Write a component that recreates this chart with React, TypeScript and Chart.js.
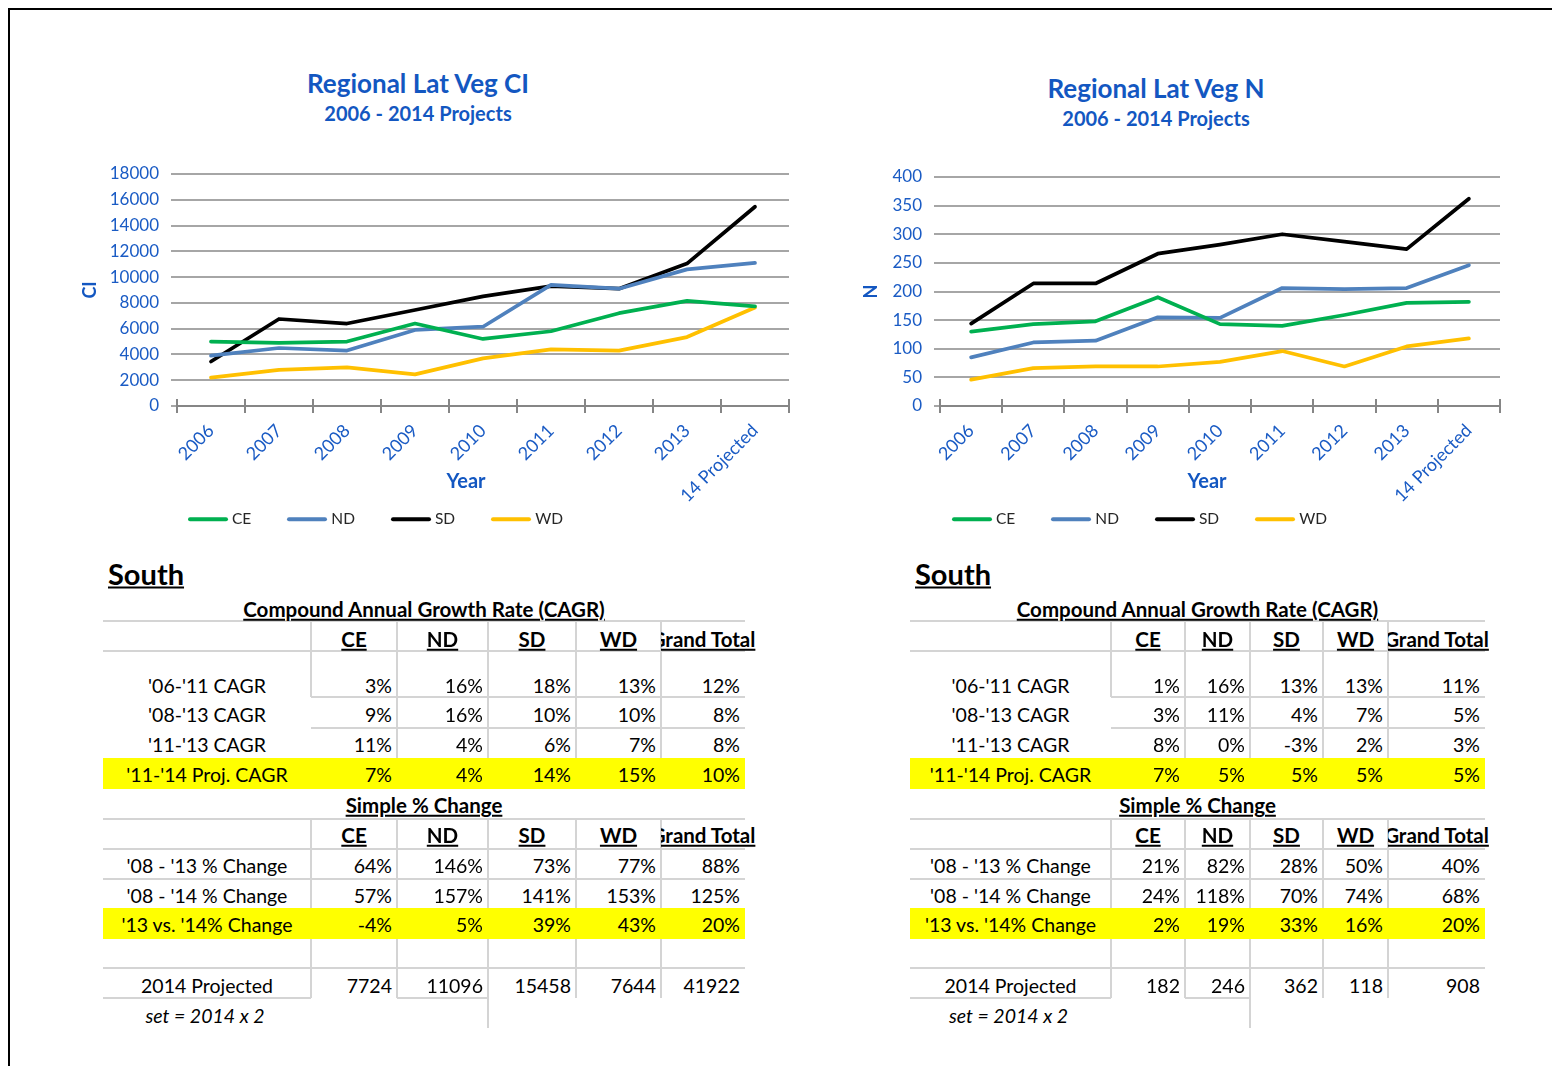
import React, { useEffect, useRef } from "react";
import { Chart, registerables } from "chart.js";
Chart.register(...registerables);
Chart.defaults.font.family = "Lato, 'Open Sans', sans-serif";

// ---------- data ----------
const years = ["2006", "2007", "2008", "2009", "2010", "2011", "2012", "2013", "14 Projected"];
const seriesNames = ["CE", "ND", "SD", "WD"];
const seriesColors = ["#00B050", "#4F81BD", "#000000", "#FFC000"];

const ciCE = [5000, 4900, 5000, 6400, 5200, 5800, 7200, 8150, 7724];
const ciND = [3900, 4500, 4300, 5900, 6150, 9400, 9100, 10600, 11096];
const ciSD = [3450, 6750, 6400, 7450, 8500, 9300, 9100, 11050, 15458];
const ciWD = [2200, 2800, 3000, 2450, 3700, 4400, 4300, 5350, 7644];

const nCE = [130, 143, 148, 190, 143, 140, 159, 180, 182];
const nND = [85, 111, 114, 155, 154, 206, 204, 206, 246];
const nSD = [144, 214, 214, 266, 282, 300, 287, 274, 362];
const nWD = [46, 66, 69, 69, 77, 96, 69, 104, 118];

const ciAxis = { max: 18000, step: 2000 };
const nAxis = { max: 400, step: 50 };

const tableCols = ["CE", "ND", "SD", "WD", "Grand Total"];
const cagrLabels = ["'06-'11 CAGR", "'08-'13 CAGR", "'11-'13 CAGR", "'11-'14 Proj. CAGR"];
const changeLabels = ["'08 - '13 % Change", "'08 - '14 % Change", "'13 vs. '14% Change"];
const projectedLabel = "2014 Projected";
const noteLabel = "set = 2014 x 2";

const ciCagr = [
  ["3%", "16%", "18%", "13%", "12%"],
  ["9%", "16%", "10%", "10%", "8%"],
  ["11%", "4%", "6%", "7%", "8%"],
  ["7%", "4%", "14%", "15%", "10%"],
];
const ciChange = [
  ["64%", "146%", "73%", "77%", "88%"],
  ["57%", "157%", "141%", "153%", "125%"],
  ["-4%", "5%", "39%", "43%", "20%"],
];
const ciProjected = ["7724", "11096", "15458", "7644", "41922"];

const nCagr = [
  ["1%", "16%", "13%", "13%", "11%"],
  ["3%", "11%", "4%", "7%", "5%"],
  ["8%", "0%", "-3%", "2%", "3%"],
  ["7%", "5%", "5%", "5%", "5%"],
];
const nChange = [
  ["21%", "82%", "28%", "50%", "40%"],
  ["24%", "118%", "70%", "74%", "68%"],
  ["2%", "19%", "33%", "16%", "20%"],
];
const nProjected = ["182", "246", "362", "118", "908"];

// ---------- styles ----------
const TICK_BLUE = "#1a5bc4";
const TITLE_BLUE = "#1357c1";
const TABLE_GRID = "#d4d4d4";
const FONT = "Lato, 'Open Sans', sans-serif";

const crossTicks = {
  id: "crossTicks",
  beforeDatasetsDraw(chart: any) {
    const s = chart.scales.x;
    const n = chart.data.labels.length;
    const w = (s.right - s.left) / n;
    const ctx = chart.ctx;
    ctx.save();
    ctx.strokeStyle = "#868686";
    ctx.lineWidth = 2;
    ctx.beginPath();
    for (let i = 0; i <= n; i++) {
      const x = Math.round(s.left + i * w);
      ctx.moveTo(x, s.top - 7);
      ctx.lineTo(x, s.top + 7);
    }
    ctx.stroke();
    ctx.restore();
  },
};

type ChartProps = {
  data: number[][];
  max: number;
  step: number;
  yTitle: string;
  left: number;
  top: number;
  width: number;
  height: number;
  axisWidth: number;
  padTop: number;
  padRight: number;
  yTitlePad: number;
  xAxisHeight: number;
};

function LineChart(p: ChartProps) {
  const ref = useRef<HTMLCanvasElement>(null);
  useEffect(() => {
    const chart = new Chart(ref.current as HTMLCanvasElement, {
      type: "line",
      data: {
        labels: years,
        datasets: seriesNames.map((name, i) => ({
          label: name,
          data: p.data[i],
          borderColor: seriesColors[i],
          backgroundColor: seriesColors[i],
          borderWidth: 3.75,
          pointRadius: 0,
          tension: 0,
          borderCapStyle: "round",
          borderJoinStyle: "round",
        })),
      },
      options: {
        responsive: false,
        animation: false,
        maintainAspectRatio: false,
        layout: { padding: { top: p.padTop, right: p.padRight, left: 0, bottom: 0 } },
        plugins: { legend: { display: false }, title: { display: false }, tooltip: { enabled: false } },
        scales: {
          x: {
            offset: true,
            grid: { display: false, drawTicks: false },
            border: { display: true, color: "#868686", width: 2 },
            ticks: {
              minRotation: 45,
              maxRotation: 45,
              autoSkip: false,
              color: TICK_BLUE,
              font: { size: 18 },
              padding: 14,
            },
            afterFit: (s: any) => {
              s.height = p.xAxisHeight;
            },
          },
          y: {
            min: 0,
            max: p.max,
            ticks: {
              stepSize: p.step,
              color: TICK_BLUE,
              font: { size: 17 },
              padding: 12,
              callback: (v: any) => String(v),
            },
            grid: { color: "#a6a6a6", lineWidth: 2, tickLength: 6, drawTicks: true },
            border: { display: false },
            title: {
              display: true,
              text: p.yTitle,
              color: TITLE_BLUE,
              font: { size: 18, weight: "bold" },
              padding: { top: p.yTitlePad, bottom: 0 },
            },
            afterFit: (s: any) => {
              s.width = p.axisWidth;
            },
          },
        },
      } as any,
      plugins: [crossTicks],
    });
    return () => chart.destroy();
  }, []);
  return (
    <canvas
      ref={ref}
      width={p.width}
      height={p.height}
      style={{ position: "absolute", left: p.left - 10, top: p.top - 10, width: p.width, height: p.height }}
    />
  );
}

function Txt(props: { x: number; y: number; a?: "l" | "c" | "r"; children: React.ReactNode; style?: React.CSSProperties }) {
  const a = props.a || "c";
  const tx = a === "c" ? "-50%" : a === "r" ? "-100%" : "0";
  return (
    <div
      style={{
        position: "absolute",
        left: props.x - 10,
        top: props.y - 10,
        transform: `translate(${tx},-50%)`,
        whiteSpace: "nowrap",
        lineHeight: 1,
        ...props.style,
      }}
    >
      {props.children}
    </div>
  );
}

function HLine({ x1, x2, y }: { x1: number; x2: number; y: number }) {
  return <div style={{ position: "absolute", left: x1 - 10, top: y - 11, width: x2 - x1, height: 2, background: TABLE_GRID }} />;
}
function VLine({ x, y1, y2 }: { x: number; y1: number; y2: number }) {
  return <div style={{ position: "absolute", left: x - 11, top: y1 - 10, width: 2, height: y2 - y1, background: TABLE_GRID }} />;
}

function Legend({ x, y }: { x: number; y: number }) {
  return (
    <div
      style={{
        position: "absolute",
        left: x - 10,
        top: y - 10,
        transform: "translateY(-50%)",
        display: "flex",
        alignItems: "center",
        gap: 36,
        fontSize: 15.5,
        color: "#262626",
        lineHeight: 1,
      }}
    >
      {seriesNames.map((n, i) => (
        <div key={n} style={{ display: "flex", alignItems: "center" }}>
          <div style={{ width: 40, height: 4, background: seriesColors[i], marginRight: 4, borderRadius: 2 }} />
          <span>{n}</span>
        </div>
      ))}
    </div>
  );
}

function ChartTitles({ cx, y, title }: { cx: number; y: number; title: string }) {
  return (
    <>
      <Txt x={cx} y={y} style={{ fontSize: 26, fontWeight: 700, color: TITLE_BLUE }}>{title}</Txt>
      <Txt x={cx} y={y + 30} style={{ fontSize: 20, fontWeight: 700, color: TITLE_BLUE }}>
        2006 - 2014 Projects
      </Txt>
    </>
  );
}

function StatsTable({ cols, cagr, change, projected, southX }: { cols: number[]; cagr: string[][]; change: string[][]; projected: string[]; southX: number }) {
  const L = cols[0];
  const R = cols[cols.length - 1];
  const mid = (L + R) / 2;
  const labelC = (cols[0] + cols[1]) / 2;
  const rowsA = [686, 715, 745, 775];
  const rowsB = [866, 896, 925];
  const bodyFont: React.CSSProperties = { fontSize: 19.5, color: "#000" };
  const headFont: React.CSSProperties = { fontSize: 20.5, fontWeight: 700, textDecoration: "underline", color: "#000" };
  const header = (y: number) =>
    tableCols.map((c, i) => {
      const cl = cols[i + 1];
      const cr = cols[i + 2];
      const cc = (cl + cr) / 2;
      return (
        <div key={c + y} style={{ position: "absolute", left: cl - 10, top: y - 25, width: 200, height: 30, overflow: "hidden" }}>
          <div
            style={{
              position: "absolute",
              left: cc - cl,
              top: 15,
              transform: "translate(-50%,-50%)",
              whiteSpace: "nowrap",
              lineHeight: 1,
              ...headFont,
            }}
          >
            {c}
          </div>
        </div>
      );
    });
  const values = (row: string[], y: number) =>
    row.map((v, i) => (
      <Txt key={i + "-" + y} x={cols[i + 2] - 5} y={y} a="r" style={bodyFont}>
        {v}
      </Txt>
    ));
  return (
    <>
      <HLine x1={L} x2={R} y={621} />
      <HLine x1={L} x2={R} y={651} />
      <HLine x1={cols[1]} x2={R} y={697} />
      <HLine x1={cols[1]} x2={R} y={728} />
      <VLine x={cols[1]} y1={621} y2={697} />
      {cols.slice(2, 6).map((x) => (
        <VLine key={"va" + x} x={x} y1={621} y2={758} />
      ))}
      <div style={{ position: "absolute", left: L - 10, top: 758 - 10, width: R - L, height: 31, background: "#FFFF00" }} />
      <HLine x1={L} x2={R} y={819} />
      <HLine x1={L} x2={R} y={849} />
      <HLine x1={L} x2={R} y={879} />
      <HLine x1={L} x2={R} y={968} />
      <HLine x1={L} x2={cols[1]} y={998} />
      <HLine x1={cols[2]} x2={cols[3]} y={998} />
      {[cols[1], cols[2], cols[4], cols[5]].map((x) => (
        <VLine key={"vb" + x} x={x} y1={819} y2={998} />
      ))}
      <VLine x={cols[3]} y1={819} y2={1028} />
      <div style={{ position: "absolute", left: L - 10, top: 908 - 10, width: R - L, height: 31, background: "#FFFF00" }} />

      <Txt x={southX} y={573} a="l" style={{ fontSize: 29, fontWeight: 700, textDecoration: "underline", color: "#000" }}>
        South
      </Txt>
      <Txt x={mid} y={609} style={{ ...headFont }}>Compound Annual Growth Rate (CAGR)</Txt>
      {header(639)}
      {cagrLabels.map((lab, r) => (
        <React.Fragment key={lab}>
          <Txt x={labelC} y={rowsA[r]} style={bodyFont}>{lab}</Txt>
          {values(cagr[r], rowsA[r])}
        </React.Fragment>
      ))}
      <Txt x={mid} y={805} style={{ ...headFont }}>Simple % Change</Txt>
      {header(835)}
      {changeLabels.map((lab, r) => (
        <React.Fragment key={lab}>
          <Txt x={labelC} y={rowsB[r]} style={bodyFont}>{lab}</Txt>
          {values(change[r], rowsB[r])}
        </React.Fragment>
      ))}
      <Txt x={labelC} y={986} style={bodyFont}>{projectedLabel}</Txt>
      {values(projected, 986)}
      <Txt x={labelC - 2} y={1016} style={{ ...bodyFont, fontStyle: "italic" }}>{noteLabel}</Txt>
    </>
  );
}

export default function App() {
  return (
    <div
      style={{
        position: "relative",
        height: 1056,
        marginRight: -8,
        borderTop: "2px solid #000",
        borderLeft: "2px solid #000",
        fontFamily: FONT,
        overflow: "hidden",
        background: "#fff",
      }}
    >
      <ChartTitles cx={418} y={83} title="Regional Lat Veg CI" />
      <ChartTitles cx={1156} y={88} title="Regional Lat Veg N" />
      <LineChart
        data={[ciCE, ciND, ciSD, ciWD]}
        max={ciAxis.max}
        step={ciAxis.step}
        yTitle="CI"
        left={60}
        top={150}
        width={740}
        height={370}
        axisWidth={117}
        padTop={24}
        padRight={11}
        yTitlePad={19.2}
        xAxisHeight={114}
      />
      <LineChart
        data={[nCE, nND, nSD, nWD]}
        max={nAxis.max}
        step={nAxis.step}
        yTitle="N"
        left={850}
        top={150}
        width={660}
        height={370}
        axisWidth={90}
        padTop={27}
        padRight={10}
        yTitlePad={10.2}
        xAxisHeight={114}
      />
      <Txt x={466} y={480} style={{ fontSize: 20, fontWeight: 700, color: TITLE_BLUE }}>Year</Txt>
      <Txt x={1207} y={480} style={{ fontSize: 20, fontWeight: 700, color: TITLE_BLUE }}>Year</Txt>
      <Legend x={188} y={519} />
      <Legend x={952} y={519} />
      <StatsTable cols={[103, 311, 397, 488, 576, 661, 745]} cagr={ciCagr} change={ciChange} projected={ciProjected} southX={108} />
      <StatsTable cols={[910, 1111, 1185, 1250, 1323, 1388, 1485]} cagr={nCagr} change={nChange} projected={nProjected} southX={915} />
    </div>
  );
}
